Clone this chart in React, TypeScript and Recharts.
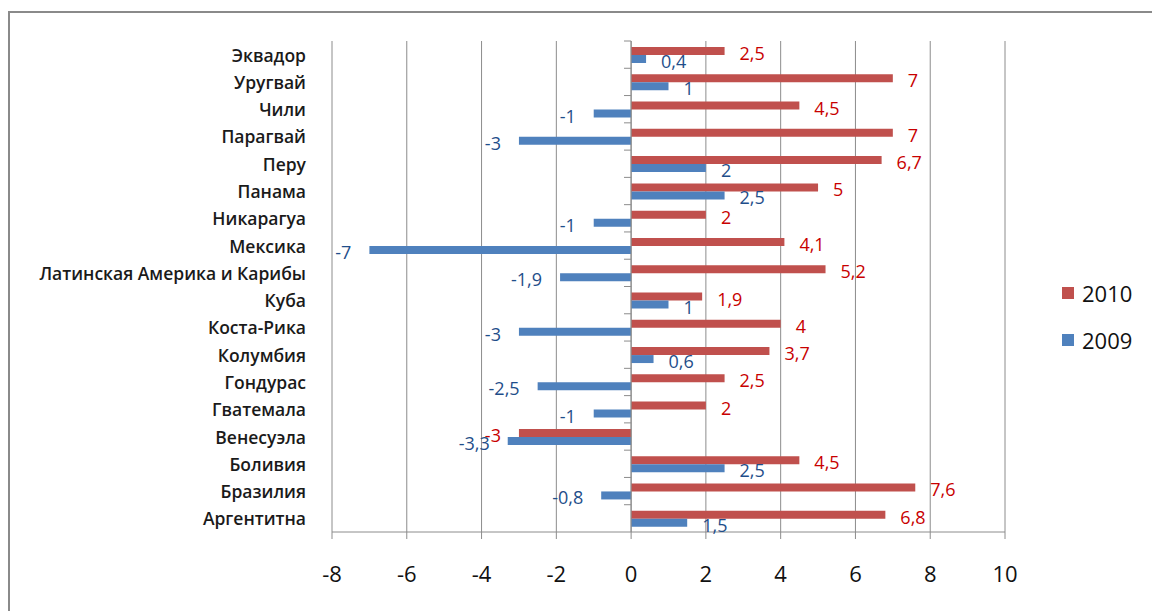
import { Bar, BarChart, CartesianGrid, LabelList, ReferenceLine, XAxis, YAxis } from 'recharts';

const countries = [
  'Эквадор',
  'Уругвай',
  'Чили',
  'Парагвай',
  'Перу',
  'Панама',
  'Никарагуа',
  'Мексика',
  'Латинская Америка и Карибы',
  'Куба',
  'Коста-Рика',
  'Колумбия',
  'Гондурас',
  'Гватемала',
  'Венесуэла',
  'Боливия',
  'Бразилия',
  'Аргентитна',
];

const values2010 = [2.5, 7, 4.5, 7, 6.7, 5, 2, 4.1, 5.2, 1.9, 4, 3.7, 2.5, 2, -3, 4.5, 7.6, 6.8];
const values2009 = [0.4, 1, -1, -3, 2, 2.5, -1, -7, -1.9, 1, -3, 0.6, -2.5, -1, -3.3, 2.5, -0.8, 1.5];

const xTicks = [-8, -6, -4, -2, 0, 2, 4, 6, 8, 10];

const series = [
  { key: 'y2010', name: '2010', color: '#C0504D', labelColor: '#C80000' },
  { key: 'y2009', name: '2009', color: '#4F81BD', labelColor: '#1F4E8A' },
];

const data = countries.map((name, i) => ({ name, y2010: values2010[i], y2009: values2009[i] }));

const FONT = '"Open Sans", sans-serif';
const GRID = '#8c8c8c';

const fmt = (v: number) => String(v).replace('.', ',');

function makeValueLabel(color: string) {
  return function ValueLabel(props: any) {
    const vb = typeof props.x === 'number' ? props : props.viewBox || props;
    const { x, y, width, height } = vb;
    const value = Number(props.value);
    const left = Math.min(x, x + width);
    const right = Math.max(x, x + width);
    const neg = value < 0;
    return (
      <text
        x={neg ? left - 18 : right + 15}
        y={y + height / 2 + 2}
        fill={color}
        textAnchor={neg ? 'end' : 'start'}
        dominantBaseline="central"
        fontSize={18}
        fontFamily={FONT}
      >
        {fmt(value)}
      </text>
    );
  };
}

function CategoryTick(props: any) {
  const { x, y, payload } = props;
  return (
    <text
      x={x}
      y={y}
      textAnchor="end"
      dominantBaseline="central"
      fontSize={17.5}
      fontWeight={600}
      fontFamily={FONT}
      fill="#1a1a1a"
    >
      {payload.value}
    </text>
  );
}

function LegendBox() {
  return (
    <div style={{ position: 'absolute', left: 1062, top: 269, fontFamily: FONT }}>
      {series.map(s => (
        <div key={s.key} style={{ display: 'flex', alignItems: 'center', height: 47 }}>
          <span style={{ width: 12, height: 12, background: s.color, marginRight: 8, display: 'inline-block' }} />
          <span style={{ fontSize: 22, color: '#111' }}>{s.name}</span>
        </div>
      ))}
    </div>
  );
}

export default function App() {
  return (
    <div style={{ position: 'absolute', left: 0, top: 0, width: 1152, height: 611, background: '#fff' }}>
      <div
        style={{
          position: 'absolute',
          left: 8,
          top: 11,
          width: 1144,
          height: 600,
          borderLeft: '2px solid #8a8a8a',
          borderTop: '2px solid #8a8a8a',
        }}
      />
      <BarChart
        width={1152}
        height={611}
        data={data}
        layout="vertical"
        margin={{ top: 41, right: 147, bottom: 0, left: 0 }}
        barSize={8}
        barGap={0}
        style={{ position: 'absolute', left: 0, top: 0, fontFamily: FONT }}
      >
        <CartesianGrid horizontal={false} stroke={GRID} />
        <XAxis
          type="number"
          domain={[-8, 10]}
          ticks={xTicks}
          interval={0}
          height={79}
          stroke={GRID}
          tickSize={7}
          tickMargin={27}
          tick={{ fontSize: 22, fill: '#111', fontFamily: FONT }}
        />
        <YAxis
          type="category"
          dataKey="name"
          width={332}
          axisLine={false}
          tickLine={false}
          tickSize={0}
          tickMargin={26}
          interval={0}
          tick={<CategoryTick />}
        />
        <ReferenceLine x={0} stroke={GRID} />
        {countries.map(c => (
          <ReferenceLine
            key={c}
            segment={[
              { x: -0.19, y: c },
              { x: 0, y: c },
            ]}
            position="start"
            stroke={GRID}
          />
        ))}
        {series.map(s => (
          <Bar key={s.key} dataKey={s.key} name={s.name} fill={s.color} isAnimationActive={false}>
            <LabelList dataKey={s.key} content={makeValueLabel(s.labelColor)} />
          </Bar>
        ))}
      </BarChart>
      <LegendBox />
    </div>
  );
}
